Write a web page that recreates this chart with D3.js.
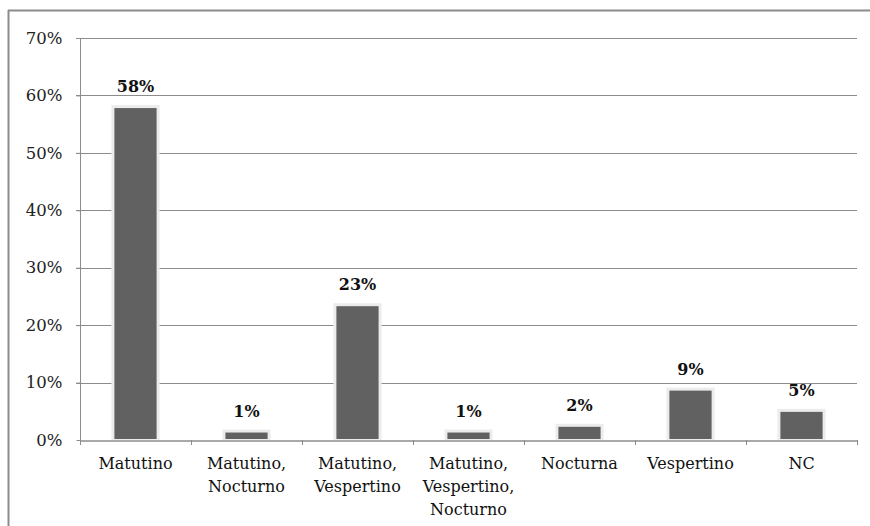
<!DOCTYPE html>
<html><head><meta charset="utf-8">
<script src="https://cdn.jsdelivr.net/npm/d3@7"></script>
<style>body{margin:0;background:#fff}svg{display:block}text{font-family:"DejaVu Serif","Liberation Serif",serif}</style>
</head><body>
<svg id="c" width="870" height="526"></svg>
<script>
const categories = [["Matutino"],["Matutino,","Nocturno"],["Matutino,","Vespertino"],["Matutino,","Vespertino,","Nocturno"],["Nocturna"],["Vespertino"],["NC"]];
const values = [0.578, 0.013, 0.233, 0.013, 0.023, 0.086, 0.049];
const labels = ["58%","1%","23%","1%","2%","9%","5%"];
const yTicks = [0,0.1,0.2,0.3,0.4,0.5,0.6,0.7];

(function(){
const svg = d3.select("#c");
const pl = 80, pr = 857, pt = 38, pb = 440;

// frame
svg.append("line").attr("x1",8).attr("x2",870).attr("y1",10.5).attr("y2",10.5).attr("stroke","#8c8c8c").attr("stroke-width",2);
svg.append("line").attr("x1",8.5).attr("x2",8.5).attr("y1",10).attr("y2",526).attr("stroke","#8c8c8c").attr("stroke-width",2);

const keys = categories.map((c,i)=>i);
const x = d3.scaleBand().domain(keys).range([pl,pr]).paddingInner(0.62).paddingOuter(0.31);
const xb = d3.scaleBand().domain(keys).range([pl,pr]);
const y = d3.scaleLinear().domain([0,0.7]).range([pb,pt]);

// gridlines
svg.append("g").selectAll("line").data(yTicks.filter(d=>d>0)).join("line")
  .attr("x1",pl-4).attr("x2",pr).attr("y1",d=>Math.round(y(d))+0.5).attr("y2",d=>Math.round(y(d))+0.5)
  .attr("stroke","#8c8c8c").attr("stroke-width",1);

// y axis
const ya = svg.append("g").attr("transform",`translate(${pl+0.5},0)`)
  .call(d3.axisLeft(y).tickValues(yTicks).tickFormat(d3.format(".0%")).tickSize(4).tickPadding(14));
ya.attr("font-family",null).attr("font-size",null);
ya.select(".domain").attr("stroke","#8c8c8c").attr("d",`M0,${pt}V${pb}`);
ya.selectAll(".tick line").attr("stroke","#8c8c8c");
ya.selectAll("text").style("font-size","16.5px").attr("fill","#222");

// x axis
const xa = svg.append("g").attr("transform",`translate(0,${pb+0.5})`)
  .call(d3.axisBottom(xb).tickFormat("").tickSize(0));
xa.select(".domain").attr("stroke","#8c8c8c").attr("stroke-width",1.5);
svg.append("g").selectAll("line").data(keys.concat([keys.length])).join("line")
  .attr("x1",d=>Math.round(pl + d*xb.bandwidth())+0.5).attr("x2",d=>Math.round(pl + d*xb.bandwidth())+0.5)
  .attr("y1",pb).attr("y2",pb+5).attr("stroke","#8c8c8c");

// x labels
const xl = svg.append("g").selectAll("text").data(keys).join("text")
  .attr("x",d=>xb(d)+xb.bandwidth()/2).attr("y",pb+29)
  .attr("text-anchor","middle").style("font-size","16px").attr("fill","#111");
xl.each(function(d){
  const t = d3.select(this);
  categories[d].forEach((ln,j)=>t.append("tspan").attr("x",xb(d)+xb.bandwidth()/2).attr("dy",j?23:0).text(ln));
});

// bars with soft halo
const bars = svg.append("g");
bars.selectAll("rect.halo").data(keys).join("rect").attr("class","halo")
  .attr("x",d=>x(d)-3).attr("width",x.bandwidth()+6)
  .attr("y",d=>y(values[d])-3).attr("height",d=>pb-y(values[d])+3)
  .attr("fill","#ececec");
bars.selectAll("rect.bar").data(keys).join("rect").attr("class","bar")
  .attr("x",d=>x(d)).attr("width",x.bandwidth())
  .attr("y",d=>y(values[d])).attr("height",d=>pb-1-y(values[d]))
  .attr("fill","#616161");

// data labels
svg.append("g").selectAll("text").data(keys).join("text")
  .attr("x",d=>x(d)+x.bandwidth()/2).attr("y",d=>y(values[d])-16)
  .attr("text-anchor","middle").attr("font-weight","bold")
  .style("font-size","16px").attr("fill","#111").text(d=>labels[d]);
})();
</script>
</body></html>
